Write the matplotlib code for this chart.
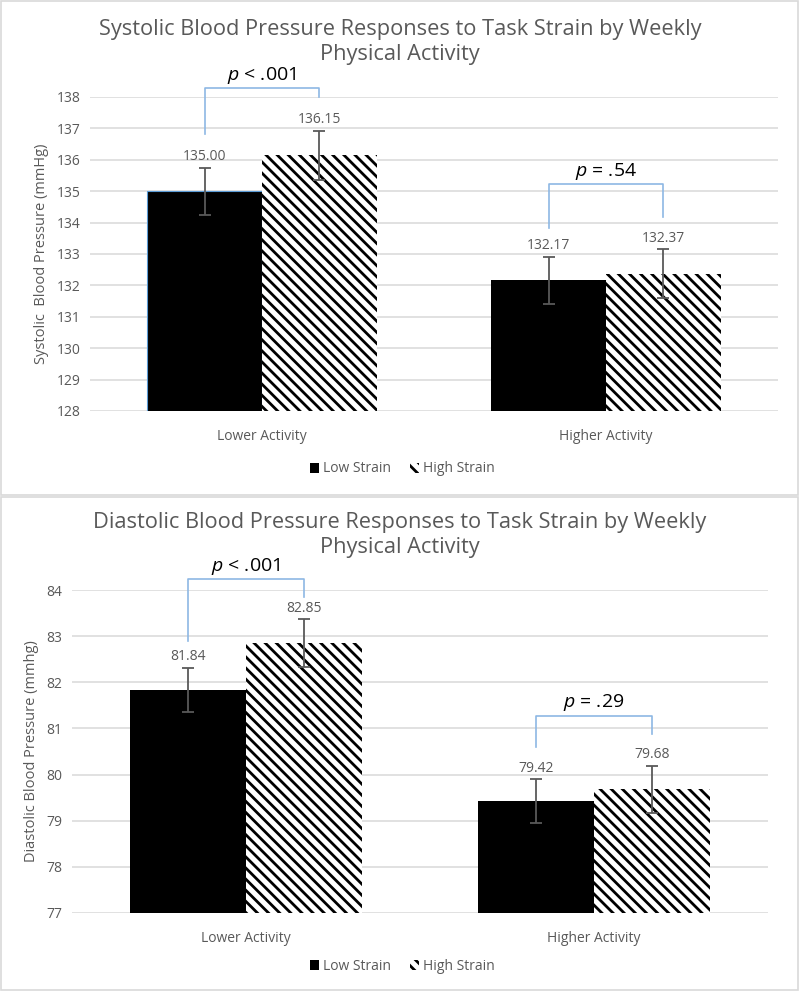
import numpy as np
import matplotlib
matplotlib.use("Agg")
import matplotlib.pyplot as plt
from matplotlib.patches import Rectangle, Patch

plt.rcParams['font.family'] = ['Open Sans', 'DejaVu Sans']
plt.rcParams['mathtext.fontset'] = 'custom'
plt.rcParams['mathtext.it'] = 'Open Sans:italic'
plt.rcParams['mathtext.rm'] = 'Open Sans'
plt.rcParams['hatch.linewidth'] = 2.0

############ data ############
groups = ['Lower Activity', 'Higher Activity']
series = ['Low Strain', 'High Strain']

sys_low = [135.00, 132.17]
sys_high = [136.15, 132.37]
sys_low_err = [0.75, 0.75]
sys_high_err = [0.78, 0.78]

dia_low = [81.84, 79.42]
dia_high = [82.85, 79.68]
dia_low_err = [0.48, 0.48]
dia_high_err = [0.52, 0.51]

sys_p = ['$p$ < .001', '$p$ = .54']
dia_p = ['$p$ < .001', '$p$ = .29']

TXT = '#595959'
GRID = '#D9D9D9'
BLUE = '#8DB8E4'

W, H = 800, 992
fig = plt.figure(figsize=(8, 9.92), dpi=100)

# panel frames
for (x0, y0, x1, y1) in [(1, 1, 798, 495), (1, 497, 798, 990)]:
    fig.patches.append(Rectangle((x0 / W, 1 - y1 / H), (x1 - x0) / W, (y1 - y0) / H,
                                 transform=fig.transFigure, fill=False,
                                 edgecolor=GRID, linewidth=1.2))


def draw_panel(rect, low, high, lerr, herr, ylim, ylabel, title, title_y,
               ptexts, brackets, legend_y, outline_first=False):
    ax = fig.add_axes(rect)
    x = np.arange(len(groups))
    bw = 0.333
    b1 = ax.bar(x - bw / 2, low, bw, color='black', linewidth=0, zorder=3)
    if outline_first:
        b1[0].set_edgecolor('#5B9BD5')
        b1[0].set_linewidth(0.8)
    ax.bar(x + bw / 2, high, bw, color='white', edgecolor='black', hatch='\\\\\\',
           linewidth=0, zorder=3)
    ax.errorbar(x - bw / 2, low, yerr=lerr, fmt='none', ecolor='#595959',
                elinewidth=1.3, capsize=4, capthick=1.3, zorder=4)
    ax.errorbar(x + bw / 2, high, yerr=herr, fmt='none', ecolor='#595959',
                elinewidth=1.3, capsize=4, capthick=1.3, zorder=4)
    for xs, vals, errs in [(x - bw / 2, low, lerr), (x + bw / 2, high, herr)]:
        for xi, v, e in zip(xs, vals, errs):
            ax.annotate(f'{v:.2f}', (xi, v + e), xytext=(0, 2.5), textcoords='offset points',
                        ha='center', va='bottom', fontsize=10, color=TXT, zorder=5)
    # significance brackets
    for i, (top, lleg, rleg) in enumerate(brackets):
        xl, xr = x[i] - bw / 2, x[i] + bw / 2
        ax.plot([xl, xl, xr, xr], [lleg, top, top, rleg], color=BLUE, lw=1.2,
                zorder=5, clip_on=False)
        ax.annotate(ptexts[i], ((xl + xr) / 2, top), xytext=(0, 1.5),
                    textcoords='offset points', ha='center', va='bottom',
                    fontsize=14, color='black', annotation_clip=False)

    ax.set_ylim(*ylim)
    ax.set_xlim(-0.5, len(groups) - 0.5)
    ax.set_yticks(np.arange(ylim[0], ylim[1] + 1, 1))
    ax.yaxis.grid(True, color=GRID, linewidth=1.1)
    ax.set_axisbelow(True)
    for s in ax.spines.values():
        s.set_visible(False)
    ax.set_xticks(x)
    ax.set_xticklabels(groups)
    ax.tick_params(axis='both', length=0, labelsize=10, labelcolor=TXT)
    ax.tick_params(axis='x', pad=13)
    ax.tick_params(axis='y', pad=7)
    ax.set_ylabel(ylabel, fontsize=10.5, color=TXT, labelpad=5)

    fig.text(0.5, title_y, title, ha='center', va='center', fontsize=15.7,
             color=TXT, linespacing=1.25)
    handles = [Patch(facecolor='black', edgecolor='black', linewidth=0),
               Patch(facecolor='white', edgecolor='black', hatch='\\\\\\', linewidth=0)]
    fig.legend(handles, series, loc='center', bbox_to_anchor=(0.503, legend_y),
               ncol=2, frameon=False, fontsize=10, labelcolor=TXT,
               handlelength=0.7, handleheight=0.7, handletextpad=0.3,
               columnspacing=1.3)
    return ax


draw_panel([90 / W, 1 - 411 / H, 688 / W, 314 / H], sys_low, sys_high,
           sys_low_err, sys_high_err, (128, 138), 'Systolic  Blood Pressure (mmHg)',
           'Systolic Blood Pressure Responses to Task Strain by Weekly\nPhysical Activity',
           1 - 42 / H, sys_p, [(138.28, 136.82, 138.01), (135.22, 133.84, 134.19)],
           1 - 469 / H, outline_first=True)

draw_panel([72 / W, 1 - 913 / H, 696 / W, 323 / H], dia_low, dia_high,
           dia_low_err, dia_high_err, (77, 84), 'Diastolic Blood Pressure (mmhg)',
           'Diastolic Blood Pressure Responses to Task Strain by Weekly\nPhysical Activity',
           1 - 535 / H, dia_p, [(84.23, 82.89, 83.85), (81.28, 80.60, 80.87)],
           1 - 966 / H)

fig.savefig('out.png', dpi=100)
